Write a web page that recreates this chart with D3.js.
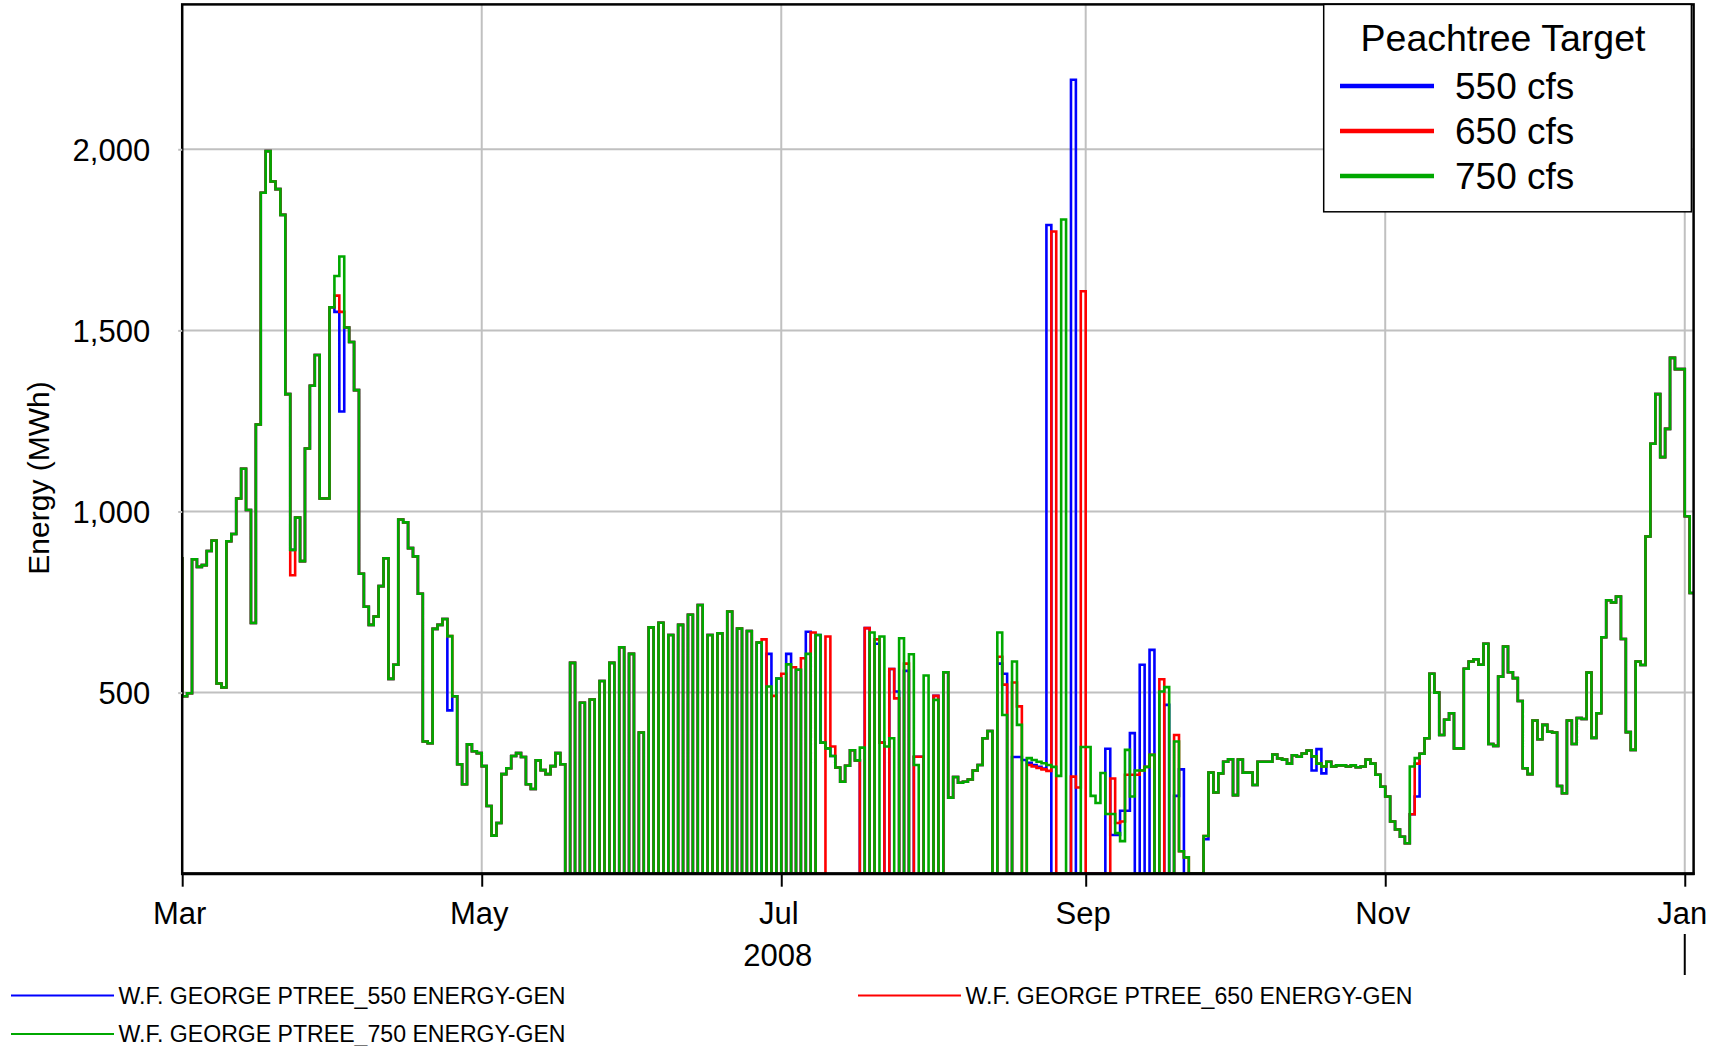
<!DOCTYPE html>
<html><head><meta charset="utf-8">
<script src="https://cdn.jsdelivr.net/npm/d3@7"></script>
<style>body{margin:0;background:#fff} svg text{font-family:"Liberation Sans",Arial,sans-serif;fill:#000}</style>
</head><body><svg id="c" width="1721" height="1046"></svg>
<script>
// ---------------- DATA ----------------
const firstDay = "2008-02-29";           // day of green[0]; one value per day
const green = [
871,
490,498,868,847,852,891,920,525,514,918,
938,1036,1118,1004,692,1240,1880,1995,1911,1890,
1819,1324,894,983,863,1174,1347,1432,1036,1036,
1564,1650,1704,1508,1468,1335,828,737,687,710,
794,871,538,577,978,970,899,876,773,365,
360,676,687,703,656,490,302,247,357,338,
333,297,187,105,140,275,291,325,333,322,
247,234,313,286,275,297,333,302,0,582,
0,472,0,481,0,532,0,582,0,625,
0,607,0,390,0,680,0,693,0,659,
0,687,0,715,0,742,0,659,0,664,
0,724,0,677,0,670,0,638,0,517,
0,539,0,578,0,563,0,607,0,659,
362,346,325,293,254,298,341,313,348,0,
666,0,655,351,374,0,650,0,606,300,
0,547,0,480,0,556,210,267,251,254,
260,285,300,374,394,0,666,438,0,586,
411,0,319,314,309,305,300,295,270,1806,
0,0,0,350,350,215,195,278,165,165,
112,90,342,213,285,285,295,328,0,503,
515,0,365,62,45,0,0,0,104,279,
224,277,309,316,217,315,279,279,245,309,
309,309,329,318,315,304,327,323,332,340,
324,304,296,309,296,299,299,296,299,294,
296,315,304,273,240,213,144,122,102,84,
296,319,331,374,552,500,383,425,443,346,
346,566,586,592,577,635,358,353,544,627,
556,540,477,291,275,423,371,411,392,390,
242,222,423,358,430,427,555,375,443,653,
755,749,765,648,391,342,586,576,931,1187,
1324,1150,1228,1424,1393,1393,987,775
];
// days (counted from Mar 1 = 0) where the 650 cfs run differs from the 750 cfs run
const redDays = [22,31,32,118,119,120,121,122,123,124,125,126,127,128,129,130,131,132,
 138,139,140,141,142,143,144,145,146,147,148,149,150,151,152,153,154,
 166,167,169,170,171,172,173,174,175,176,177,178,179,180,181,182,183,184,185,186,187,188,189,190,191,192,193,194,199,200,202,250,251];
const redVals = [824,1596,1551,647,0,491,0,552,0,570,0,595,0,666,0,0,655,351,
 0,678,0,647,362,0,565,484,0,580,0,323,323,0,0,491,0,
 599,522,528,462,0,300,296,292,288,284,1773,0,0,0,268,238,1608,0,0,0,0,0,263,140,144,273,273,273,537,0,383,164,304];
// days where the 550 cfs run differs from the 650 cfs run
const blueDays = [22,31,32,54,118,119,120,121,122,123,124,125,126,127,128,129,130,131,132,141,145,147,
 166,167,169,170,171,172,173,174,175,176,177,178,179,180,181,182,183,184,185,186,187,188,189,190,191,192,193,194,195,196,197,198,199,200,201,202,203,204,208,
 230,231,232,250,251];
const blueVals = [894,1551,1276,451,0,607,0,539,0,607,0,563,0,668,0,659,362,346,325,635,503,560,
 580,552,322,322,314,306,300,295,290,1791,0,0,0,0,2192,0,0,0,0,0,0,345,107,107,174,174,388,0,577,0,618,0,0,466,0,215,288,0,95,
 285,344,277,164,213];

const seriesNames = ["W.F. GEORGE PTREE_550 ENERGY-GEN","W.F. GEORGE PTREE_650 ENERGY-GEN","W.F. GEORGE PTREE_750 ENERGY-GEN"];
const seriesColors = ["#0000ff","#ff0000","#00a800"];
const legendTitle = "Peachtree Target";
const legendLabels = ["550 cfs","650 cfs","750 cfs"];
const yTicks = [500,1000,1500,2000];
const xTickDates = ["2008-03-01","2008-05-01","2008-07-01","2008-09-01","2008-11-01","2009-01-01"];
const yearLabel = "2008";
const yLabel = "Energy (MWh)";

// ---------------- BUILD SERIES ----------------
const red = green.slice();
redDays.forEach((d,i)=>{ red[d+1] = redVals[i]; });
const blue = red.slice();
blueDays.forEach((d,i)=>{ blue[d+1] = blueVals[i]; });

const t0 = d3.utcParse("%Y-%m-%d")(firstDay);
const toPts = vals => {
  const pts = vals.map((v,i)=>({t:d3.utcDay.offset(t0,i), v}));
  pts.push({t:d3.utcDay.offset(t0,vals.length), v:vals[vals.length-1]});
  return pts;
};

// ---------------- CHART ----------------
const svg = d3.select("#c");
const L=182.2, R=1693.6, T=4.4, B=873.7;
const parse = d3.utcParse("%Y-%m-%d");
const xStart = parse("2008-03-01");
const x = d3.scaleUtc().domain([xStart, new Date(+xStart + 307.8*864e5)]).range([L,R]);
const y = d3.scaleLinear().domain([0,2400]).range([B,T]);

svg.append("rect").attr("width",1721).attr("height",1046).attr("fill","#fff");

// grid
svg.append("g").selectAll("line").data(yTicks).join("line")
  .attr("x1",L).attr("x2",R).attr("y1",d=>y(d)).attr("y2",d=>y(d))
  .attr("stroke","#c0c0c0").attr("stroke-width",2);
svg.append("g").selectAll("line").data(xTickDates.slice(1).map(parse)).join("line")
  .attr("x1",d=>x(d)).attr("x2",d=>x(d)).attr("y1",T).attr("y2",B)
  .attr("stroke","#c0c0c0").attr("stroke-width",2);

// series
svg.append("clipPath").attr("id","clip").append("rect")
  .attr("x",L).attr("y",T).attr("width",R-L).attr("height",B-T);
const line = d3.line().x(d=>x(d.t)).y(d=>y(d.v)).curve(d3.curveStepAfter);
const gS = svg.append("g").attr("clip-path","url(#clip)");
[blue,red,green].forEach((s,i)=>{
  gS.append("path").attr("d",line(toPts(s))).attr("fill","none")
    .attr("stroke",seriesColors[i]).attr("stroke-width",2.6).attr("stroke-linejoin","miter");
});

// frame
svg.append("rect").attr("x",L).attr("y",T).attr("width",R-L).attr("height",B-T)
  .attr("fill","none").attr("stroke","#000").attr("stroke-width",2.5);
svg.append("line").attr("x1",L-1).attr("x2",R+1).attr("y1",B).attr("y2",B).attr("stroke","#000").attr("stroke-width",3);

// y axis
const gy = svg.append("g").attr("transform",`translate(${L},0)`)
  .call(d3.axisLeft(y).tickValues(yTicks).tickFormat(d3.format(",")).tickSize(14).tickPadding(18));
gy.select(".domain").remove();
gy.selectAll(".tick line").attr("x2",-4).attr("stroke","#c0c0c0").attr("stroke-width",2);
gy.selectAll(".tick text").attr("font-size",31).attr("dy","0.35em").attr("fill","#000");

// x axis
const gx = svg.append("g").attr("transform",`translate(0,${B})`)
  .call(d3.axisBottom(x).tickValues(xTickDates.map(parse)).tickFormat(d3.utcFormat("%b")).tickSize(13));
gx.select(".domain").remove();
gx.selectAll(".tick line").attr("stroke","#000").attr("stroke-width",2);
gx.selectAll(".tick text").attr("font-size",31).attr("y",50).attr("dy",0).attr("x",-3).attr("fill","#000");

// year separator + label
const jan = parse("2009-01-01");
svg.append("line").attr("x1",x(jan)).attr("x2",x(jan)).attr("y1",934).attr("y2",975).attr("stroke","#000").attr("stroke-width",2);
svg.append("text").attr("x",x(parse("2008-07-02"))-8.5).attr("y",966).attr("text-anchor","middle").attr("font-size",31).text(yearLabel);

// y label
svg.append("text").attr("transform","translate(49,478) rotate(-90)").attr("text-anchor","middle")
  .attr("font-size",30).text(yLabel);

// top-right legend
const lg = svg.append("g");
lg.append("rect").attr("x",1323.7).attr("y",T).attr("width",367.7).attr("height",207.4)
  .attr("fill","#fff").attr("stroke","#000").attr("stroke-width",1.5);
lg.append("text").attr("x",1503).attr("y",51).attr("text-anchor","middle").attr("font-size",37.5).text(legendTitle);
legendLabels.forEach((lab,i)=>{
  const yy = 86 + i*45;
  lg.append("line").attr("x1",1340).attr("x2",1434).attr("y1",yy).attr("y2",yy)
    .attr("stroke",seriesColors[i]).attr("stroke-width",4.5);
  lg.append("text").attr("x",1455).attr("y",yy).attr("dy","0.35em").attr("font-size",37).text(lab);
});

// bottom legend
const bl = [[11,995.5],[858,995.5],[11,1034]];
seriesNames.forEach((n,i)=>{
  const [bx,by] = bl[i];
  svg.append("line").attr("x1",bx).attr("x2",bx+103).attr("y1",by).attr("y2",by)
    .attr("stroke",seriesColors[i]).attr("stroke-width",2);
  svg.append("text").attr("x",bx+107.5).attr("y",by).attr("dy","0.35em").attr("font-size",23.1).text(n);
});
</script></body></html>
